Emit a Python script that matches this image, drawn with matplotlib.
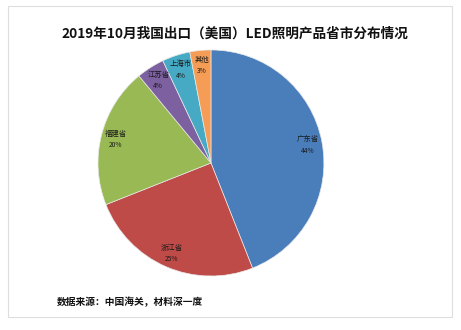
import numpy as np
import matplotlib.pyplot as plt
from matplotlib.patches import Rectangle

plt.rcParams['font.family'] = ['Noto Sans CJK SC', 'DejaVu Sans']

# 2019年10月 出口美国 LED 照明产品 省市占比 (%)
provinces = ['广东省', '浙江省', '福建省', '江苏省', '上海市', '其他']
shares = [44, 25, 20, 4, 4, 3]
colors = ['#4a7ebb', '#be4b48', '#98b954', '#7d60a0', '#46aac5', '#f59d56']

fig = plt.figure(figsize=(4.61, 3.30), dpi=100)

# light card border around the whole chart
fig.patches.append(Rectangle((0.0174, 0.0394), 0.963, 0.942, transform=fig.transFigure,
                             fill=False, edgecolor='#dedede', linewidth=0.8))

ax = fig.add_axes([0.2126, 0.1636, 0.490, 0.685])
wedges, _ = ax.pie(shares, colors=colors, startangle=90, counterclock=False,
                   radius=1, wedgeprops=dict(edgecolor='#e8e8e8', linewidth=0.5))
ax.set_xlim(-1, 1)
ax.set_ylim(-1, 1)
ax.set_aspect('auto')
ax.axis('off')

# labels sit inside the slice, near the outer edge
for w, name, v in zip(wedges, provinces, shares):
    mid = np.deg2rad((w.theta1 + w.theta2) / 2)
    x, y = 0.87 * np.cos(mid), 0.87 * np.sin(mid)
    ax.text(x, y + 0.045, name, ha='center', va='center', fontsize=5.3, color='#1a1a1a')
    ax.text(x, y - 0.055, f'{v}%', ha='center', va='center', fontsize=4.8, color='#1a1a1a')

fig.text(0.510, 0.898, '2019年10月我国出口（美国）LED照明产品省市分布情况',
         ha='center', va='center', fontsize=9.8, weight='bold', color='#111111')
fig.text(0.124, 0.085, '数据来源：中国海关，材料深一度',
         ha='left', va='center', fontsize=7, weight='bold', color='#111111')

fig.savefig('out.png', dpi=100, facecolor='white')
